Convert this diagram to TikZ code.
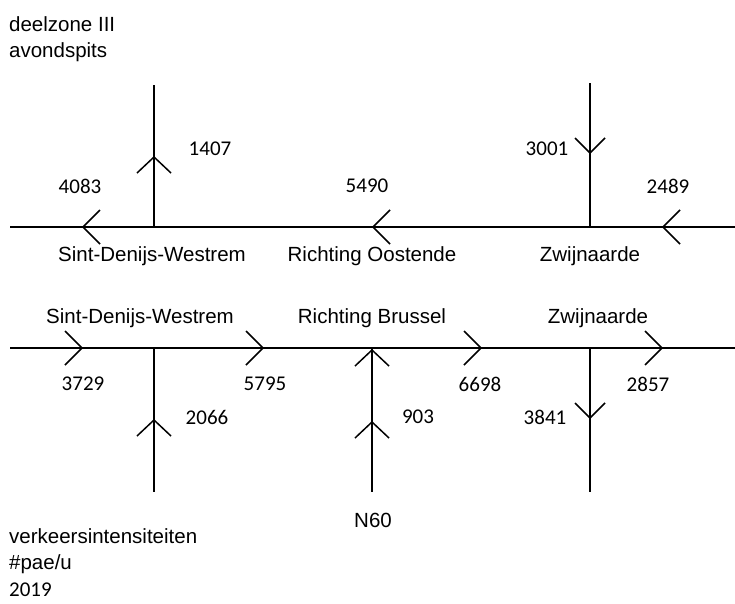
\documentclass[tikz,border=0pt]{standalone}
\usepackage{fontspec}
\setmainfont{Liberation Sans}
\newfontfamily\numfont{Carlito}
\begin{document}
\begin{tikzpicture}[x=1pt,y=-1pt,
  road/.style={line width=2.6pt,line cap=butt},
  chev/.style={line width=1.5pt},
  lbl/.style={font=\fontsize{20.5}{22}\selectfont,inner sep=0pt},
  num/.style={font=\numfont\fontsize{21}{22}\selectfont,inner sep=0pt}]
\useasboundingbox (0,0) rectangle (735,603);
% top road
\coordinate (tL) at (10,227);
\coordinate (tR) at (735,227);
\coordinate (tJ1) at (154,227);
\coordinate (tJ2) at (590,227);
\coordinate (tN1) at (154,85);
\coordinate (tN2) at (590,83);
\draw[road] (tL) -- (tR);
\draw[road] (tJ1) -- (tN1);
\draw[road] (tJ2) -- (tN2);
% bottom road
\coordinate (bL) at (10,348);
\coordinate (bR) at (735,348);
\coordinate (bJ1) at (154,348);
\coordinate (bJ2) at (372,348);
\coordinate (bJ3) at (590,348);
\coordinate (bS1) at (154,492);
\coordinate (bS2) at (372,492);
\coordinate (bS3) at (590,492);
\draw[road] (bL) -- (bR);
\draw[road] (bJ1) -- (bS1);
\draw[road] (bJ2) -- (bS2);
\draw[road] (bJ3) -- (bS3);
% chevrons top
\coordinate (c1) at (83,227);
\coordinate (c2) at (373,227);
\coordinate (c3) at (663,227);
\coordinate (c4) at (154,157);
\coordinate (c5) at (590,153);
\foreach \c in {c1,c2,c3} \draw[chev] (\c) ++(17,-17) -- (\c) -- ++(17,17);
\draw[chev] (c4) ++(-17,16) -- (c4) -- ++(17,16);
\draw[chev] (c5) ++(-15,-15) -- (c5) -- ++(15,-15);
% chevrons bottom
\coordinate (d1) at (82,348);
\coordinate (d2) at (263,348);
\coordinate (d3) at (481,348);
\coordinate (d4) at (662,348);
\coordinate (d5) at (154,420);
\coordinate (d6) at (372,350);
\coordinate (d7) at (372,422);
\coordinate (d8) at (590,418);
\foreach \c in {d1,d2,d3,d4} \draw[chev] (\c) ++(-17,-17) -- (\c) -- ++(-17,17);
\foreach \c in {d5,d6,d7} \draw[chev] (\c) ++(-17,16) -- (\c) -- ++(17,16);
\draw[chev] (d8) ++(-15,-15) -- (d8) -- ++(15,-15);
% texts
\node[lbl,anchor=west] (t1) at (9,24) {deelzone III};
\node[lbl,anchor=west] (t2) at (9,52) {avondspits};
\node[lbl] (l1) at (152,256) {Sint-Denijs-Westrem};
\node[lbl] (l2) at (372,256) {Richting Oostende};
\node[lbl] (l3) at (590,256) {Zwijnaarde};
\node[lbl] (l4) at (140,318) {Sint-Denijs-Westrem};
\node[lbl] (l5) at (372,318) {Richting Brussel};
\node[lbl] (l6) at (598,318) {Zwijnaarde};
\node[lbl] (l7) at (373,520) {N60};
\node[lbl,anchor=west] (t3) at (9,536) {verkeersintensiteiten};
\node[lbl,anchor=west] (t4) at (9,564) {\#pae/u};
\node[num,anchor=west] (t5) at (9,590) {2019};
% numbers
\node[num] (n1) at (80,186) {4083};
\node[num] (n2) at (210,149) {1407};
\node[num] (n3) at (367,186) {5490};
\node[num] (n4) at (547,149) {3001};
\node[num] (n5) at (668,186) {2489};
\node[num] (n6) at (83,384) {3729};
\node[num] (n7) at (265,384) {5795};
\node[num] (n8) at (207,417) {2066};
\node[num] (n9) at (480,384) {6698};
\node[num] (n10) at (418,417) {903};
\node[num] (n11) at (545,417) {3841};
\node[num] (n12) at (648,384) {2857};
\end{tikzpicture}
\end{document}
